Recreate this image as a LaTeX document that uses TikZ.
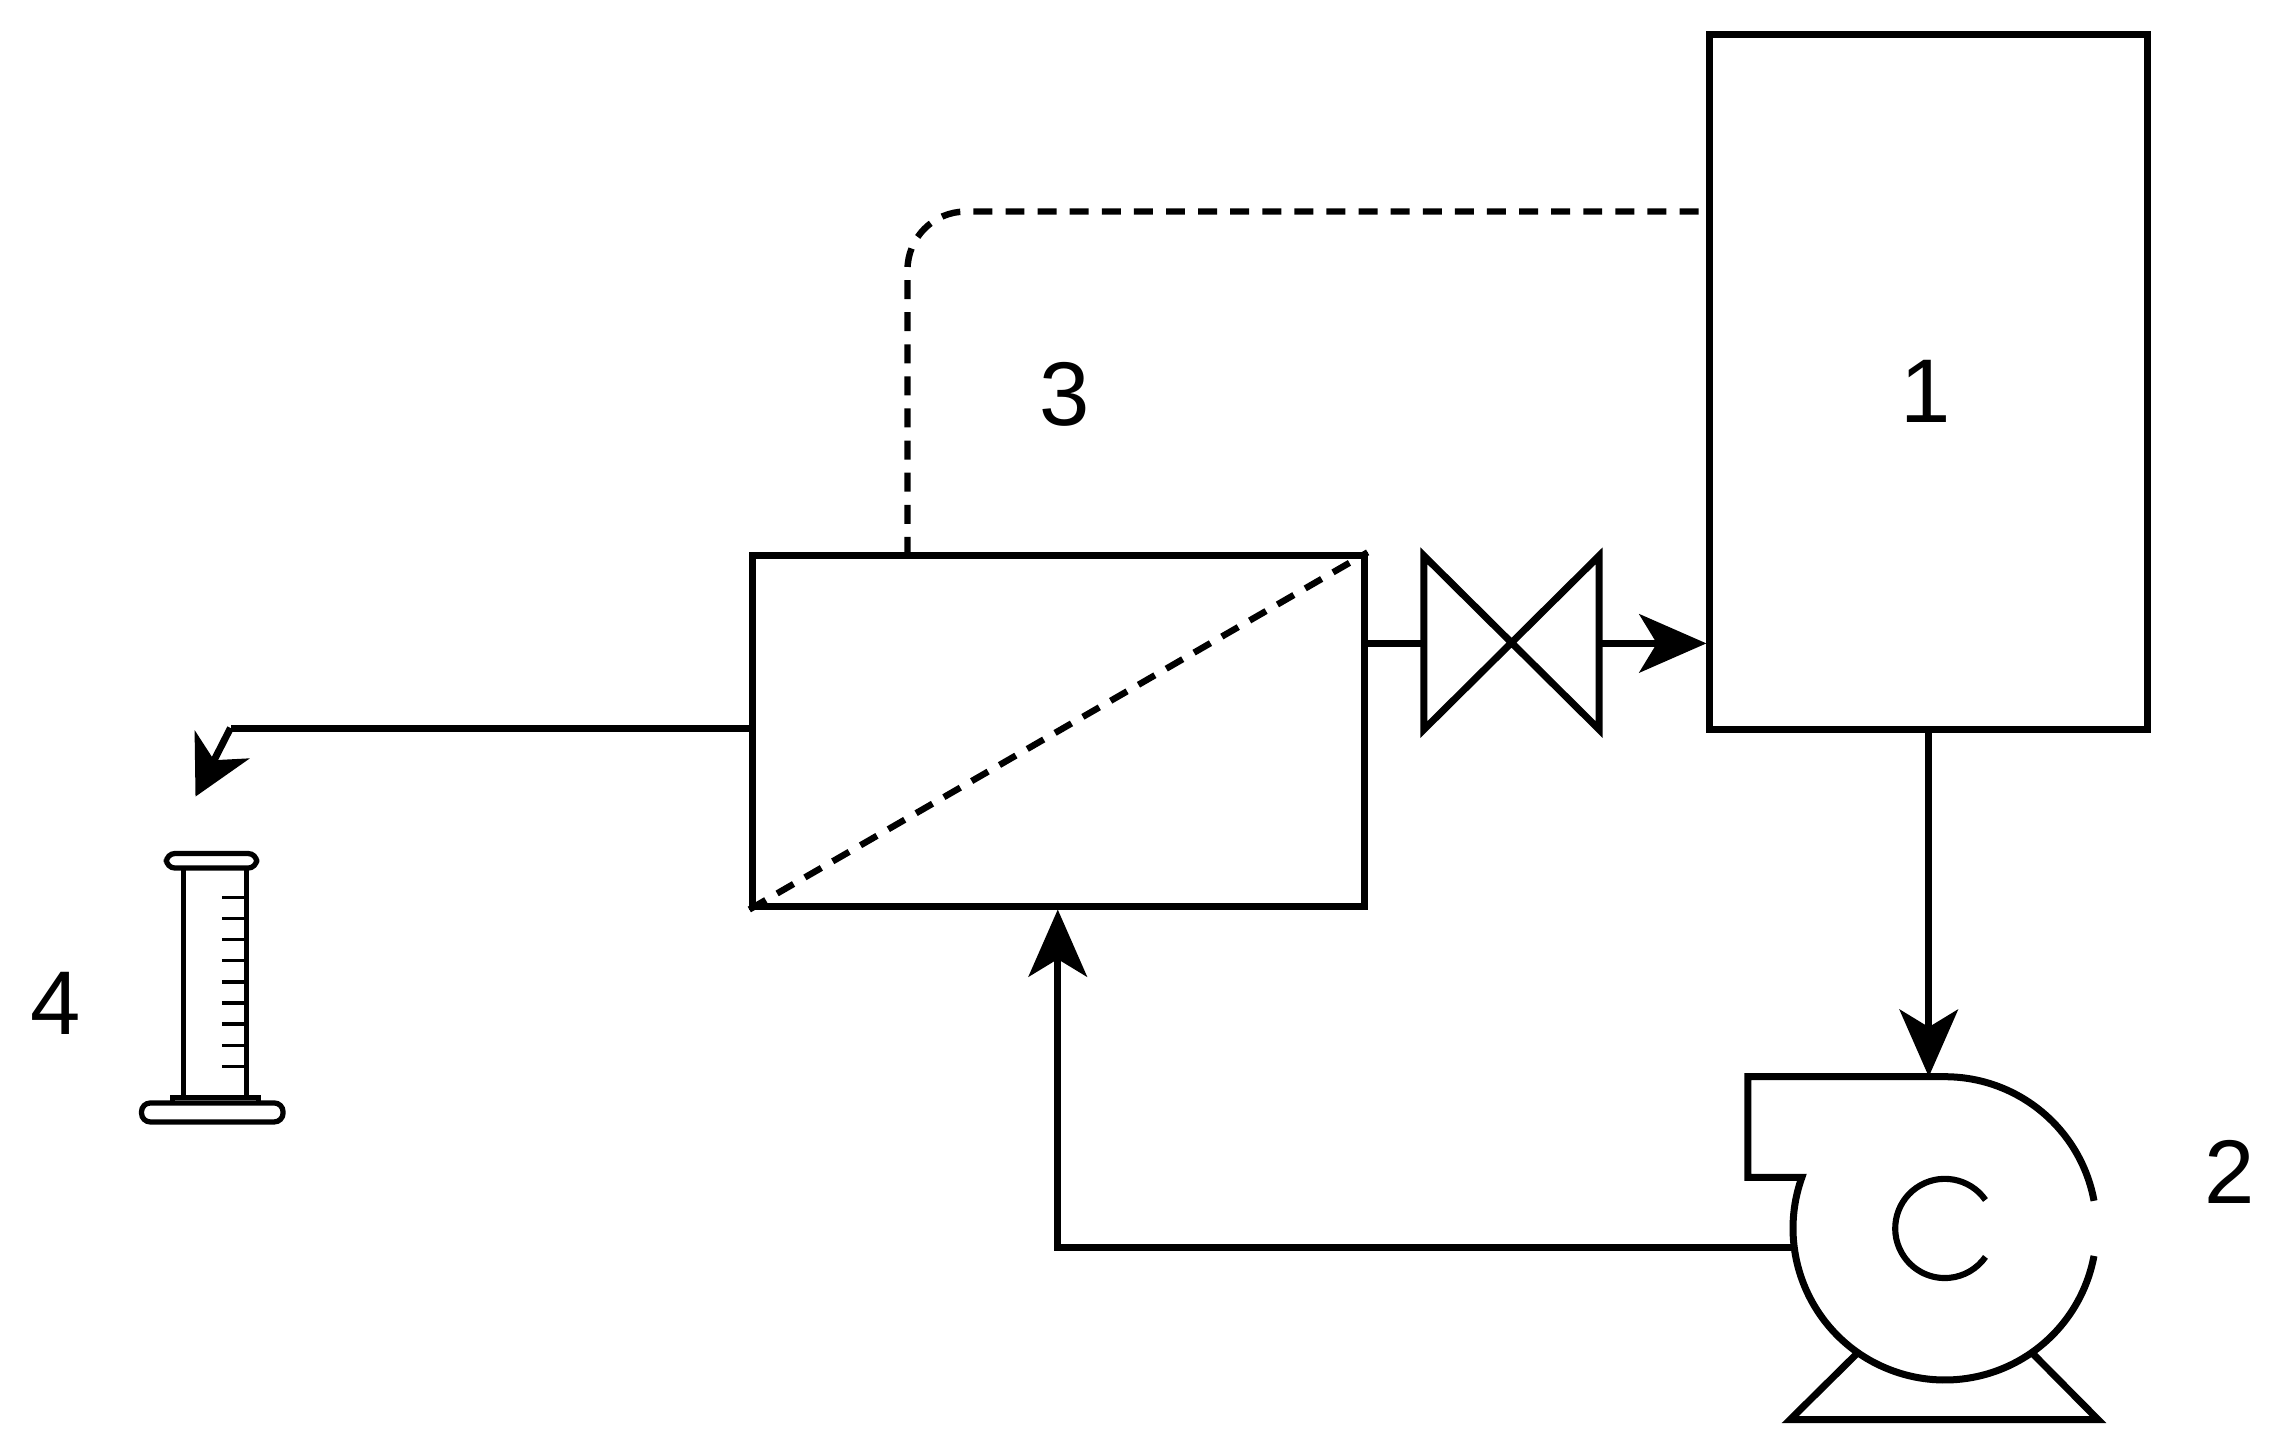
\documentclass[tikz,border=0pt]{standalone}
\usepackage{fontspec}
\setmainfont{Liberation Sans}
\usetikzlibrary{arrows.meta}
\begin{document}
\begin{tikzpicture}[x=1pt,y=1pt,
  ln/.style={line width=4.8pt},
  dsh/.style={line width=4.4pt,dash pattern=on 13pt off 9pt},
  arr/.style={ln,-{Stealth[length=46pt,width=40pt,inset=12pt]}},
  lbl/.style={font=\fontsize{62}{62}\selectfont,inner sep=0pt}]
\useasboundingbox (0,0) rectangle (1560,992);
% tank 1
\node[ln,draw,minimum width=300pt,minimum height=476pt,inner sep=0pt] (tank) at (1322,730) {};
\node[lbl] (l1) at (1320,724) {1};
% membrane 3
\node[ln,draw,minimum width=419pt,minimum height=240pt,inner sep=0pt] (mem) at (725.5,491) {};
\draw[dsh] (mem.south west) -- (mem.north east);
\node[lbl] (l3) at (730,722) {3};
\coordinate (dtop) at (622,611);
\coordinate (dtank) at (1172,847);
\draw[dsh,rounded corners=40pt] (dtop) |- (dtank);
% valve
\coordinate (v1) at (976,551);
\coordinate (v2) at (1096,551);
\draw[ln,line join=miter] (976,611) -- (976,492) -- (1096,611) -- (1096,492) -- cycle;
\draw[ln] (mem.east |- v1) -- (v1);
\draw[arr] (v2) -- (tank.west |- v2);
% pump 2
\coordinate (pc) at (1333,150);
\coordinate (ptop) at (1322,254);
\draw[arr] (tank.south -| ptop) -- (ptop);
\draw[ln,line join=miter] (1333,254) -- (1198,254) -- (1198,185) -- (1235,185)
  arc[start angle=160.4,end angle=349.5,radius=104pt];
\draw[ln] ([shift={(10.5:104pt)}]pc) arc[start angle=10.5,end angle=90,radius=104pt];
\draw[line width=4.2pt] ([shift={(35:34pt)}]pc) arc[start angle=35,end angle=325,radius=34pt];
\draw[ln,line join=miter] ([shift={(235:104pt)}]pc) -- (1227,19) -- (1438,19) -- ([shift={(305:104pt)}]pc);
\node[lbl] (l2) at (1528,189) {2};
% pump outlet to membrane
\coordinate (pout) at (1230,137);
\coordinate (corner) at (725,137);
\draw[arr] (pout) -- (corner) -- (mem.south -| corner);
% permeate outlet
\coordinate (bend) at (158,493);
\coordinate (tip) at (134,446);
\draw[ln] (mem.west |- bend) -- (bend);
\draw[ln,-{Stealth[length=40pt,width=42pt,inset=12pt]}] (bend) -- (tip);
% cylinder 4
\draw[line width=3.6pt,rounded corners=6pt] (114,397) rectangle (176,407);
\draw[line width=3.6pt] (126,397) -- (126,240) (169,397) -- (169,240);
\draw[line width=3.6pt,rounded corners=6pt] (97,223) rectangle (194,236);
\draw[line width=3.6pt] (118,236) -- (118,240) -- (177,240) -- (177,236);
\foreach \i in {0,...,8} \draw[line width=2.4pt] (152,377-14.5*\i) -- (169,377-14.5*\i);
\node[lbl] (l4) at (38,304) {4};
\end{tikzpicture}
\end{document}
